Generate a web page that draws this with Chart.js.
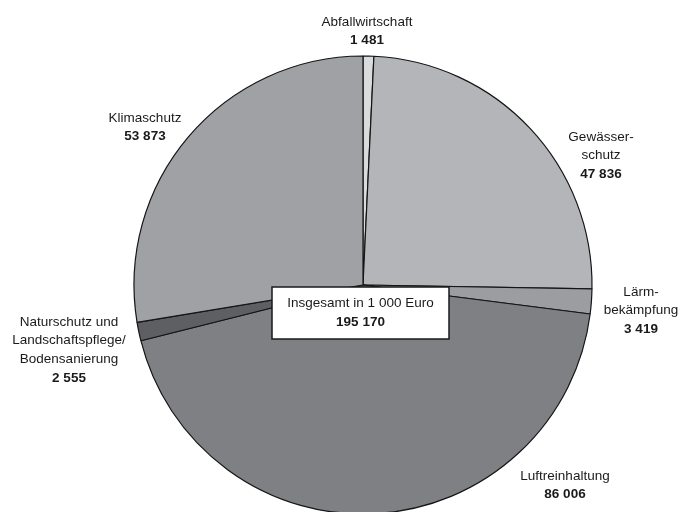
<!DOCTYPE html>
<html>
<head>
<meta charset="utf-8">
<script src="https://cdn.jsdelivr.net/npm/chart.js@4"></script>
<style>
  html, body { margin: 0; padding: 0; background: #ffffff; overflow: hidden; }
  #wrap { position: absolute; left: 0; top: 0; width: 680px; height: 520px; }
</style>
</head>
<body>
<div id="wrap"><canvas id="c" width="680" height="520"></canvas></div>
<script>
// ---- data ----
const categories = [
  ["Abfallwirtschaft"],
  ["Gewässer-", "schutz"],
  ["Lärm-", "bekämpfung"],
  ["Luftreinhaltung"],
  ["Naturschutz und", "Landschaftspflege/", "Bodensanierung"],
  ["Klimaschutz"]
];
const values = [1481, 47836, 3419, 86006, 2555, 53873];
const valueLabels = ["1 481", "47 836", "3 419", "86 006", "2 555", "53 873"];
const totalTitle = "Insgesamt in 1 000 Euro";
const totalLabel = "195 170";

// ---- styling / layout ----
const sliceColors = ["#dadbdc", "#b3b5b8", "#9b9da0", "#7e8084", "#5d5f62", "#9fa1a4"];
// label anchor offsets (first line centre) relative to pie centre
const labelOffsets = [[4, -263], [238, -148], [278, 7], [202, 191], [-294, 37], [-218, -167]];
const lineH = 18.7;
const FONT = '"Liberation Sans", Arial, sans-serif';

const labelPlugin = {
  id: 'labels',
  afterDraw(chart) {
    const ctx = chart.ctx;
    const arc = chart.getDatasetMeta(0).data[0];
    const cx = arc.x, cy = arc.y;
    ctx.save();
    ctx.fillStyle = '#1a1a1a';
    ctx.textAlign = 'center';
    ctx.textBaseline = 'middle';
    categories.forEach((lines, i) => {
      const [dx, dy] = labelOffsets[i];
      let y = cy + dy;
      ctx.font = '13.5px ' + FONT;
      lines.forEach(t => { ctx.fillText(t, cx + dx, y); y += lineH; });
      ctx.font = 'bold 13.5px ' + FONT;
      ctx.fillText(valueLabels[i], cx + dx, y);
    });
    // centre box
    const bx = cx - 91, by = cy + 2, bw = 177, bh = 52;
    ctx.fillStyle = '#ffffff';
    ctx.fillRect(bx, by, bw, bh);
    ctx.strokeStyle = '#1a1a1a';
    ctx.lineWidth = 1.5;
    ctx.strokeRect(bx, by, bw, bh);
    ctx.fillStyle = '#1a1a1a';
    ctx.font = '13.5px ' + FONT;
    ctx.fillText(totalTitle, bx + bw / 2, by + 16);
    ctx.font = 'bold 13.5px ' + FONT;
    ctx.fillText(totalLabel, bx + bw / 2, by + 35);
    ctx.restore();
  }
};

new Chart(document.getElementById('c'), {
  type: 'pie',
  data: {
    labels: categories.map(l => l.join(' ')),
    datasets: [{
      data: values,
      backgroundColor: sliceColors,
      borderColor: '#151515',
      borderWidth: 1.2
    }]
  },
  options: {
    responsive: false,
    animation: false,
    radius: 229,
    layout: { padding: { left: 134, right: 88, top: 56, bottom: 6 } },
    plugins: { legend: { display: false }, tooltip: { enabled: false } }
  },
  plugins: [labelPlugin]
});
</script>
</body>
</html>
